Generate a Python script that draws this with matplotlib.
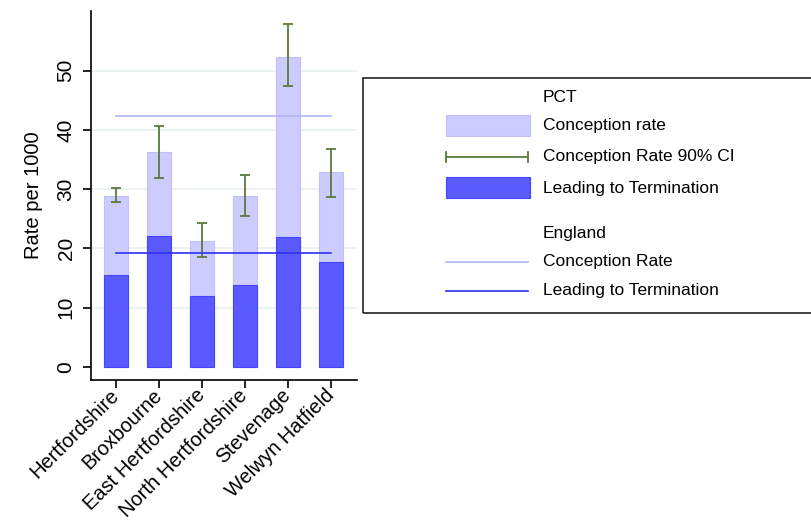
import numpy as np
import matplotlib.pyplot as plt
from matplotlib.patches import Rectangle
from matplotlib.lines import Line2D

plt.rcParams['font.family'] = ['Liberation Sans', 'DejaVu Sans']

areas = ['Hertfordshire', 'Broxbourne', 'East Hertfordshire',
         'North Hertfordshire', 'Stevenage', 'Welwyn Hatfield']
conception = [28.9, 36.3, 21.3, 28.9, 52.3, 32.9]
termination = [15.5, 22.1, 11.9, 13.8, 21.9, 17.7]
ci_low = [27.8, 31.9, 18.6, 25.5, 47.4, 28.7]
ci_high = [30.2, 40.7, 24.3, 32.4, 57.8, 36.8]
england_conception = 42.4
england_termination = 19.3

light = '#ccccff'
dark = '#5a5aff'
green = '#5b7a3a'
eng_light = '#b4b4f8'
eng_dark = '#2f2ff5'

fig = plt.figure(figsize=(8.11, 5.26), dpi=100)
ax = fig.add_axes([0.112, 0.2776, 0.328, 0.701])

x = np.arange(len(areas))
ax.bar(x, conception, width=0.56, color=light, edgecolor='#c0c0f8', linewidth=0.8, zorder=2)
ax.bar(x, termination, width=0.56, color=dark, edgecolor='#4545ff', linewidth=0.8, zorder=3)

mid = (np.array(ci_low) + np.array(ci_high)) / 2
err = (np.array(ci_high) - np.array(ci_low)) / 2
ax.errorbar(x, mid, yerr=err, fmt='none', ecolor=green, elinewidth=1.3,
            capsize=3.7, capthick=1.3, zorder=4)

ax.plot([x[0], x[-1]], [england_conception] * 2, color=eng_light, lw=1.2, zorder=4)
ax.plot([x[0], x[-1]], [england_termination] * 2, color=eng_dark, lw=1.2, zorder=4)

ax.set_xlim(-0.58, 5.6)
ax.set_ylim(-2.2, 60)
ax.set_yticks([0, 10, 20, 30, 40, 50])
for v in [10, 20, 30, 40, 50]:
    ax.axhline(v, color='#e8f0f0', lw=1.2, zorder=1)
ax.set_xticks(x)
ax.set_xticklabels(areas, rotation=45, ha='right', va='center',
                   rotation_mode='anchor', fontsize=14.5)
for lab in ax.get_yticklabels():
    lab.set_rotation(90)
    lab.set_va('center')
ax.tick_params(axis='y', labelsize=15, length=6, width=1.2, pad=5)
ax.tick_params(axis='x', length=6, width=1.2, pad=3)
ax.set_ylabel('Rate per 1000', fontsize=14.5, labelpad=10)
ax.spines['top'].set_visible(False)
ax.spines['right'].set_visible(False)
ax.spines['left'].set_linewidth(1.2)
ax.spines['bottom'].set_linewidth(1.2)

# legend drawn by hand in pixel-like figure coordinates
W, H = 811, 526
def fx(px):
    return px / W
def fy(py):
    return 1 - py / H

fig.patches.append(Rectangle((fx(363), fy(313)), fx(460), (313 - 78) / H,
                             transform=fig.transFigure, fill=False,
                             edgecolor='#222222', lw=1.2))
tx = fx(543)
fs = 12.5
fig.text(tx, fy(98), 'PCT', fontsize=fs, va='center')
fig.patches.append(Rectangle((fx(446), fy(136)), fx(84), 21 / H, transform=fig.transFigure,
                             facecolor=light, edgecolor='#c0c0f8', lw=0.8))
fig.text(tx, fy(126), 'Conception rate', fontsize=fs, va='center')
fig.lines.append(Line2D([fx(446), fx(528)], [fy(157)] * 2, transform=fig.transFigure,
                        color=green, lw=1.3))
for px in (446, 528):
    fig.lines.append(Line2D([fx(px)] * 2, [fy(152), fy(162)], transform=fig.transFigure,
                            color=green, lw=1.3))
fig.text(tx, fy(157), 'Conception Rate 90% CI', fontsize=fs, va='center')
fig.patches.append(Rectangle((fx(446), fy(198)), fx(84), 21 / H, transform=fig.transFigure,
                             facecolor=dark, edgecolor='#4545ff', lw=0.8))
fig.text(tx, fy(188), 'Leading to Termination', fontsize=fs, va='center')
fig.text(tx, fy(233), 'England', fontsize=fs, va='center')
fig.lines.append(Line2D([fx(446), fx(528)], [fy(262)] * 2, transform=fig.transFigure,
                        color=eng_light, lw=1.2))
fig.text(tx, fy(262), 'Conception Rate', fontsize=fs, va='center')
fig.lines.append(Line2D([fx(446), fx(528)], [fy(291)] * 2, transform=fig.transFigure,
                        color=eng_dark, lw=1.2))
fig.text(tx, fy(291), 'Leading to Termination', fontsize=fs, va='center')

fig.savefig('out.png', dpi=100)
